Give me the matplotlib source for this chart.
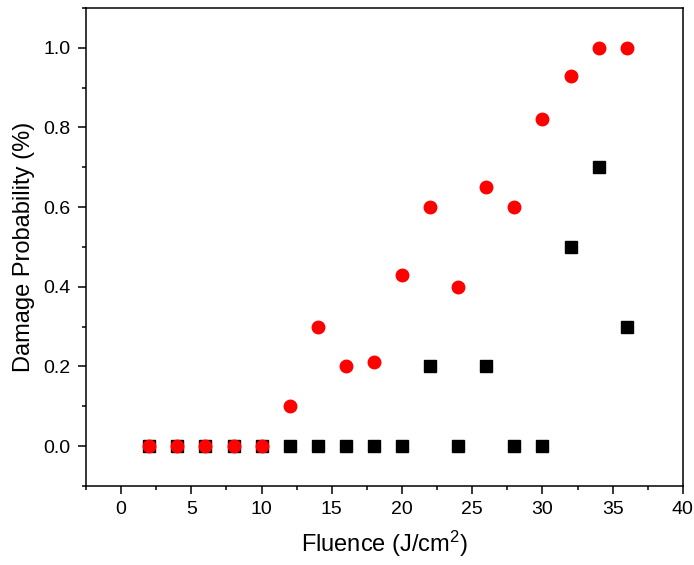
import numpy as np
import matplotlib
matplotlib.use("Agg")
import matplotlib.pyplot as plt
from matplotlib.ticker import MultipleLocator

plt.rcParams["font.family"] = ["Liberation Sans", "DejaVu Sans"]
plt.rcParams["mathtext.default"] = "regular"

# ── data ─────────────────────────────────────────────────────────────────────
fluence = [2, 4, 6, 8, 10, 12, 14, 16, 18, 20, 22, 24, 26, 28, 30, 32, 34, 36]
prob_black = [0, 0, 0, 0, 0, 0, 0, 0, 0, 0, 0.2, 0, 0.2, 0, 0, 0.5, 0.7, 0.3]
prob_red = [0, 0, 0, 0, 0, 0.1, 0.3, 0.2, 0.21, 0.43, 0.6, 0.4, 0.65, 0.6,
            0.82, 0.93, 1.0, 1.0]

# ── plot ─────────────────────────────────────────────────────────────────────
fig = plt.figure(figsize=(6.94, 5.65), dpi=100)
ax = fig.add_axes([0.124, 0.140, 0.860, 0.846])

ax.plot(fluence, prob_black, "s", color="black", markersize=8, linestyle="none")
ax.plot(fluence, prob_red, "o", color="red", markersize=9, linestyle="none")

ax.set_xlim(-2.5, 40)
ax.set_ylim(-0.1, 1.1)
ax.xaxis.set_major_locator(MultipleLocator(5))
ax.xaxis.set_minor_locator(MultipleLocator(2.5))
ax.yaxis.set_major_locator(MultipleLocator(0.2))
ax.yaxis.set_minor_locator(MultipleLocator(0.1))
ax.yaxis.set_major_formatter(plt.FormatStrFormatter("%.1f"))

ax.tick_params(which="both", direction="out", top=False, right=False,
               width=1.1, labelsize=14)
ax.tick_params(which="major", length=6, pad=5)
ax.tick_params(which="minor", length=3)
for s in ax.spines.values():
    s.set_linewidth(1.1)

ax.set_xlabel("Fluence (J/cm$^2$)", fontsize=17, labelpad=8)
ax.set_ylabel("Damage Probability (%)", fontsize=17, labelpad=6)

fig.savefig("out.png", dpi=100)
